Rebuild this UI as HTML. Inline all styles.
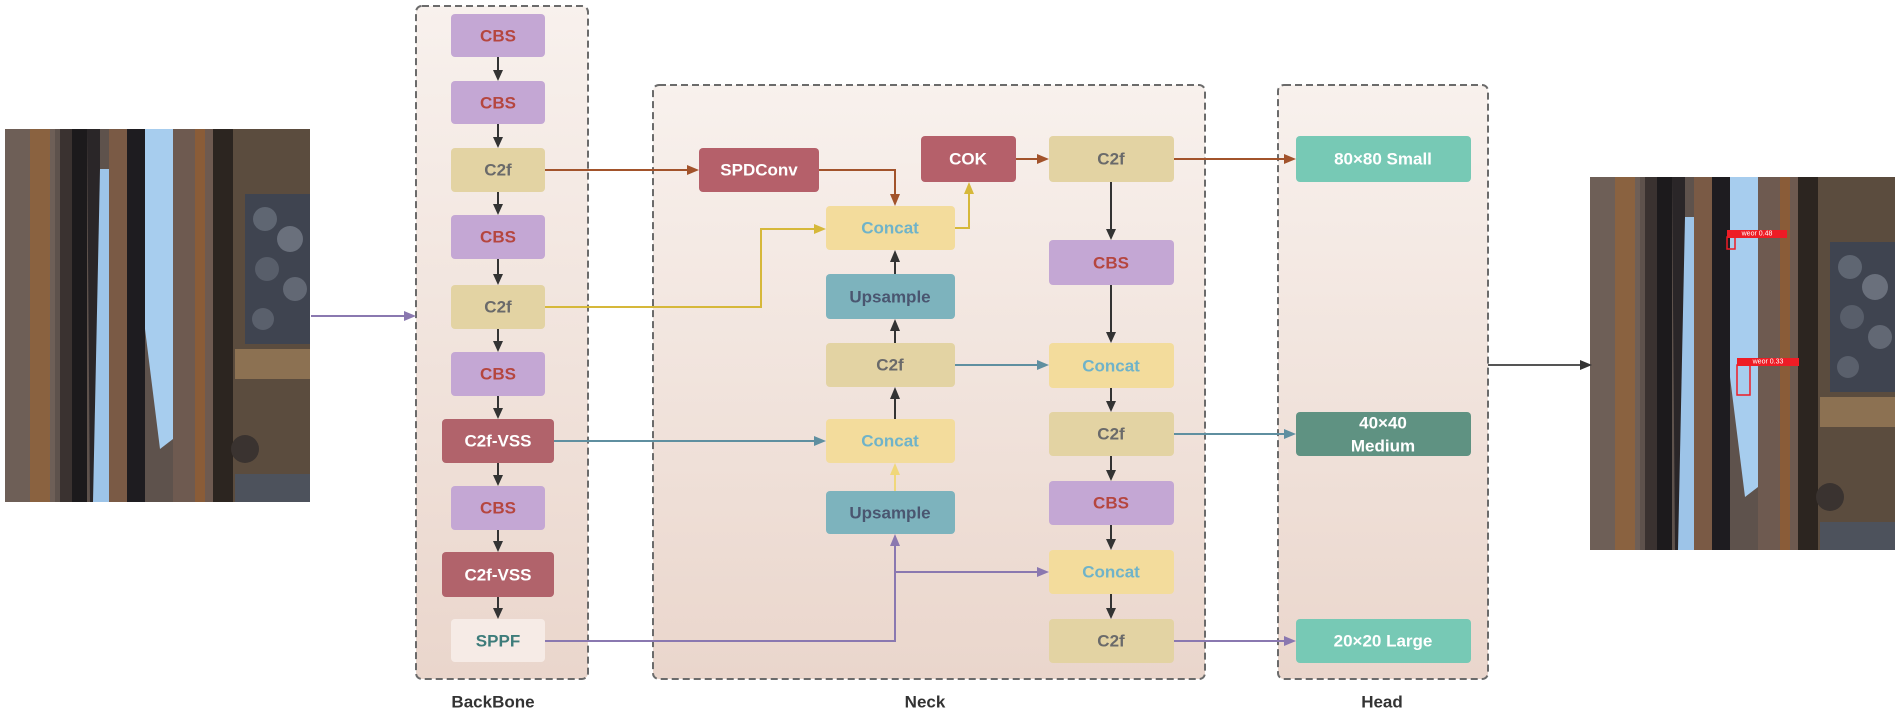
<!DOCTYPE html>
<html><head><meta charset="utf-8"><style>
html,body{margin:0;padding:0;background:#fff}
svg{display:block}
text{font-family:"Liberation Sans",sans-serif;font-weight:bold;font-size:17px;text-anchor:middle;dominant-baseline:central}
</style></head><body>
<svg width="1900" height="714" viewBox="0 0 1900 714" xmlns="http://www.w3.org/2000/svg">
<defs>
<linearGradient id="bg" x1="0" y1="0" x2="0" y2="1"><stop offset="0" stop-color="#f8f1ed"/><stop offset="1" stop-color="#ead6cc"/></linearGradient>
<g id="photo">
<rect x="0" y="0" width="305" height="373" fill="#5e524c"/>
<rect x="0" y="0" width="50" height="373" fill="#6e5f57"/>
<rect x="25" y="0" width="20" height="373" fill="#8a6240"/>
<rect x="55" y="0" width="12" height="373" fill="#3a3230"/>
<rect x="67" y="0" width="15" height="373" fill="#1c1a1c"/>
<polygon points="82,0 95,0 95,373 85,373" fill="#2a2628"/>
<polygon points="95,40 106,40 110,373 88,373" fill="#9dc4e8"/>
<rect x="104" y="0" width="18" height="373" fill="#7a5a45"/>
<rect x="122" y="0" width="18" height="373" fill="#1e1c20"/>
<polygon points="140,0 168,0 168,310 155,320 140,200" fill="#a7cdee"/>
<rect x="168" y="0" width="40" height="373" fill="#6e5a50"/>
<rect x="190" y="0" width="10" height="373" fill="#8a5c38"/>
<rect x="208" y="0" width="20" height="373" fill="#2c2520"/>
<rect x="228" y="0" width="77" height="373" fill="#5b4c3e"/>
<rect x="240" y="65" width="65" height="150" fill="#3f4450"/>
<circle cx="260" cy="90" r="12" fill="#5f6672"/><circle cx="285" cy="110" r="13" fill="#6a707c"/>
<circle cx="262" cy="140" r="12" fill="#585e6a"/><circle cx="290" cy="160" r="12" fill="#626874"/>
<circle cx="258" cy="190" r="11" fill="#5a606c"/>
<rect x="230" y="220" width="75" height="30" fill="#8c7152"/>
<circle cx="240" cy="320" r="14" fill="#3a3330"/>
<rect x="230" y="345" width="75" height="28" fill="#4d525c"/>
</g>
</defs>

<!-- photos -->
<use href="#photo" x="5" y="129"/>
<use href="#photo" x="1590" y="177"/>
<g fill="none" stroke="#ee1c25" stroke-width="1.5">
<rect x="1727" y="237" width="8" height="12"/>
<rect x="1737" y="365" width="13" height="30"/>
</g>
<rect x="1727" y="230" width="60" height="8" fill="#ee1c25"/>
<rect x="1737" y="358" width="62" height="8" fill="#ee1c25"/>
<text x="1757" y="234" style="font-size:7px;fill:#fff;font-weight:normal">weor 0.48</text>
<text x="1768" y="362" style="font-size:7px;fill:#fff;font-weight:normal">weor 0.33</text>

<!-- group boxes -->
<g fill="url(#bg)" stroke="#6b6b6b" stroke-width="2" stroke-dasharray="7,4">
<rect x="416" y="6" width="172" height="673" rx="6"/>
<rect x="653" y="85" width="552" height="594" rx="6"/>
<rect x="1278" y="85" width="210" height="594" rx="6"/>
</g>
<text x="493" y="702" style="fill:#333">BackBone</text>
<text x="925" y="702" style="fill:#333">Neck</text>
<text x="1382" y="702" style="fill:#333">Head</text>

<!-- connectors -->
<g fill="none" stroke-width="2">
<path d="M311 316 H408" stroke="#8a78b0"/>
<path d="M1488 365 H1584" stroke="#555"/>
<path d="M545 170 H691" stroke="#a2532b"/>
<path d="M819 170 H895 V198" stroke="#a2532b"/>
<path d="M545 307 H761 V229 H818" stroke="#d6b83a"/>
<path d="M955 228 H969 V190" stroke="#d6b83a"/>
<path d="M1016 159 H1041" stroke="#a2532b"/>
<path d="M554 441 H818" stroke="#5f8fa0"/>
<path d="M955 365 H1041" stroke="#5f8fa0"/>
<path d="M545 641 H895 V542" stroke="#8a78b0"/>
<path d="M895 572 H1041" stroke="#8a78b0"/>
<path d="M1174 159 H1288" stroke="#a2532b"/>
<path d="M1174 434 H1288" stroke="#5f8fa0"/>
<path d="M1174 641 H1288" stroke="#8a78b0"/>
<path d="M895 491 V471" stroke="#f0d77a"/>
<g stroke="#333">
<path d="M498 57 V74"/><path d="M498 124 V141"/><path d="M498 192 V208"/><path d="M498 259 V278"/><path d="M498 329 V345"/><path d="M498 396 V412"/><path d="M498 463 V479"/><path d="M498 530 V545"/><path d="M498 597 V612"/>
<path d="M895 419 V395"/><path d="M895 343 V327"/><path d="M895 274 V258"/>
<path d="M1111 182 V233"/><path d="M1111 285 V336"/><path d="M1111 388 V405"/><path d="M1111 456 V474"/><path d="M1111 525 V543"/><path d="M1111 594 V612"/>
</g>
</g>
<!-- arrowheads -->
<g>
<polygon points="416,316 404,311 404,321" fill="#8a78b0"/>
<polygon points="1592,365 1580,360 1580,370" fill="#333"/>
<polygon points="699,170 687,165 687,175" fill="#a2532b"/>
<polygon points="895,206 890,194 900,194" fill="#a2532b"/>
<polygon points="826,229 814,224 814,234" fill="#d6b83a"/>
<polygon points="969,182 964,194 974,194" fill="#d6b83a"/>
<polygon points="1049,159 1037,154 1037,164" fill="#a2532b"/>
<polygon points="826,441 814,436 814,446" fill="#5f8fa0"/>
<polygon points="1049,365 1037,360 1037,370" fill="#5f8fa0"/>
<polygon points="895,534 890,546 900,546" fill="#8a78b0"/>
<polygon points="1049,572 1037,567 1037,577" fill="#8a78b0"/>
<polygon points="1296,159 1284,154 1284,164" fill="#a2532b"/>
<polygon points="1296,434 1284,429 1284,439" fill="#5f8fa0"/>
<polygon points="1296,641 1284,636 1284,646" fill="#8a78b0"/>
<polygon points="895,463 890,475 900,475" fill="#f0d77a"/>
<g fill="#333">
<polygon points="498,81 493,70 503,70"/><polygon points="498,148 493,137 503,137"/><polygon points="498,215 493,204 503,204"/><polygon points="498,285 493,274 503,274"/><polygon points="498,352 493,341 503,341"/><polygon points="498,419 493,408 503,408"/><polygon points="498,486 493,475 503,475"/><polygon points="498,552 493,541 503,541"/><polygon points="498,619 493,608 503,608"/>
<polygon points="895,387 890,399 900,399"/><polygon points="895,319 890,331 900,331"/><polygon points="895,250 890,262 900,262"/>
<polygon points="1111,240 1106,229 1116,229"/><polygon points="1111,343 1106,332 1116,332"/><polygon points="1111,412 1106,401 1116,401"/><polygon points="1111,481 1106,470 1116,470"/><polygon points="1111,550 1106,539 1116,539"/><polygon points="1111,619 1106,608 1116,608"/>
</g>
</g>

<!-- nodes -->
<g>
<rect x="451" y="14" width="94" height="43" rx="4" fill="#c4a7d4"/><text x="498" y="36" fill="#b5463f">CBS</text>
<rect x="451" y="81" width="94" height="43" rx="4" fill="#c4a7d4"/><text x="498" y="103" fill="#b5463f">CBS</text>
<rect x="451" y="148" width="94" height="44" rx="4" fill="#e3d3a3"/><text x="498" y="170" fill="#6a6a6a">C2f</text>
<rect x="451" y="215" width="94" height="44" rx="4" fill="#c4a7d4"/><text x="498" y="237" fill="#b5463f">CBS</text>
<rect x="451" y="285" width="94" height="44" rx="4" fill="#e3d3a3"/><text x="498" y="307" fill="#6a6a6a">C2f</text>
<rect x="451" y="352" width="94" height="44" rx="4" fill="#c4a7d4"/><text x="498" y="374" fill="#b5463f">CBS</text>
<rect x="442" y="419" width="112" height="44" rx="4" fill="#b1636b"/><text x="498" y="441" fill="#fff">C2f-VSS</text>
<rect x="451" y="486" width="94" height="44" rx="4" fill="#c4a7d4"/><text x="498" y="508" fill="#b5463f">CBS</text>
<rect x="442" y="552" width="112" height="45" rx="4" fill="#b1636b"/><text x="498" y="575" fill="#fff">C2f-VSS</text>
<rect x="451" y="619" width="94" height="43" rx="4" fill="#f6ebe6"/><text x="498" y="641" fill="#3e7c7a">SPPF</text>

<rect x="699" y="148" width="120" height="44" rx="4" fill="#b5606a"/><text x="759" y="170" fill="#fff">SPDConv</text>
<rect x="921" y="136" width="95" height="46" rx="4" fill="#b5606a"/><text x="968" y="159" fill="#fff">COK</text>
<rect x="826" y="206" width="129" height="44" rx="4" fill="#f3dc9c"/><text x="890" y="228" fill="#6fb3c9">Concat</text>
<rect x="826" y="274" width="129" height="45" rx="4" fill="#7db3bd"/><text x="890" y="297" fill="#4a5670">Upsample</text>
<rect x="826" y="343" width="129" height="44" rx="4" fill="#e3d3a3"/><text x="890" y="365" fill="#6a6a6a">C2f</text>
<rect x="826" y="419" width="129" height="44" rx="4" fill="#f3dc9c"/><text x="890" y="441" fill="#6fb3c9">Concat</text>
<rect x="826" y="491" width="129" height="43" rx="4" fill="#7db3bd"/><text x="890" y="513" fill="#4a5670">Upsample</text>

<rect x="1049" y="136" width="125" height="46" rx="4" fill="#e3d3a3"/><text x="1111" y="159" fill="#6a6a6a">C2f</text>
<rect x="1049" y="240" width="125" height="45" rx="4" fill="#c4a7d4"/><text x="1111" y="263" fill="#b5463f">CBS</text>
<rect x="1049" y="343" width="125" height="45" rx="4" fill="#f3dc9c"/><text x="1111" y="366" fill="#6fb3c9">Concat</text>
<rect x="1049" y="412" width="125" height="44" rx="4" fill="#e3d3a3"/><text x="1111" y="434" fill="#6a6a6a">C2f</text>
<rect x="1049" y="481" width="125" height="44" rx="4" fill="#c4a7d4"/><text x="1111" y="503" fill="#b5463f">CBS</text>
<rect x="1049" y="550" width="125" height="44" rx="4" fill="#f3dc9c"/><text x="1111" y="572" fill="#6fb3c9">Concat</text>
<rect x="1049" y="619" width="125" height="44" rx="4" fill="#e3d3a3"/><text x="1111" y="641" fill="#6a6a6a">C2f</text>

<rect x="1296" y="136" width="175" height="46" rx="4" fill="#77c9b5"/><text x="1383" y="159" fill="#fff">80×80   Small</text>
<rect x="1296" y="412" width="175" height="44" rx="4" fill="#5f9282"/><text x="1383" y="423" fill="#fff">40×40</text><text x="1383" y="446" fill="#fff">Medium</text>
<rect x="1296" y="619" width="175" height="44" rx="4" fill="#77c9b5"/><text x="1383" y="641" fill="#fff">20×20  Large</text>
</g>
</svg>
</body></html>
